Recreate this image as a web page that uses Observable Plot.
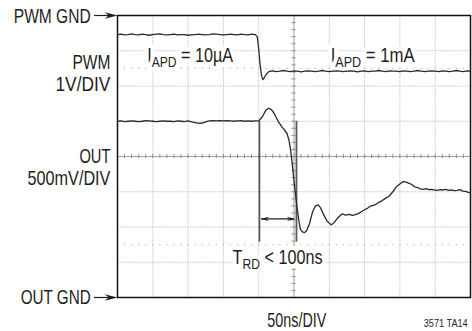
<!DOCTYPE html>
<html><head><meta charset="utf-8">
<script src="https://cdn.jsdelivr.net/npm/d3@7"></script>
<script src="https://cdn.jsdelivr.net/npm/@observablehq/plot@0.6"></script>
<style>body{margin:0;background:#fff}</style>
</head><body>
<script>
// time in ns (50ns/DIV), amplitude in screen divisions (0 = bottom / OUT GND, 8 = top / PWM GND)
const xGrid = [50,100,150,200,300,350,400,450];
const yGrid = [1,2,3,5,6,7];
const xCenter = 250, yCenter = 4;
const cursorRows = [1.5, 6.5];

const pwmT = [0,5,10,15,20,25,30,35,40,45,50,55,60,65,70,75,80,85,90,95,100,105,110,115,120,125,130,135,140,145,150,155,160,165,170,175,180,185,190,195,
  198,200,202,204,206,208,211,214,217,
  220,225,230,235,240,245,250,255,260,265,270,275,280,285,290,295,300,305,310,315,320,325,330,335,340,345,350,355,360,365,370,375,380,385,390,395,400,405,410,415,420,425,430,435,440,445,450,455,460,465,470,475,480,485,490,495,500];
const pwmV = [7.46,7.47,7.45,7.46,7.48,7.46,7.45,7.47,7.46,7.44,7.46,7.47,7.48,7.46,7.45,7.46,7.47,7.45,7.46,7.46,7.44,7.45,7.46,7.47,7.46,7.45,7.46,7.48,7.47,7.46,7.45,7.46,7.47,7.46,7.45,7.47,7.46,7.45,7.47,7.46,
  7.40,7.05,6.60,6.30,6.18,6.24,6.34,6.40,6.42,
  6.43,6.41,6.42,6.44,6.42,6.41,6.43,6.42,6.40,6.42,6.43,6.42,6.41,6.42,6.44,6.42,6.41,6.42,6.43,6.42,6.41,6.42,6.43,6.42,6.40,6.42,6.43,6.41,6.42,6.42,6.44,6.42,6.41,6.43,6.42,6.42,6.41,6.43,6.42,6.41,6.42,6.44,6.42,6.41,6.42,6.43,6.42,6.41,6.43,6.42,6.41,6.42,6.44,6.42,6.41,6.43,6.42];

const outT = [0,5,10,15,20,25,30,35,40,45,50,55,60,65,70,75,80,85,90,95,100,105,110,115,120,125,130,135,140,145,150,155,160,165,170,175,180,185,190,195,
  200,205,210,214,218,222,228,234,240,243,245,247.5,249.7,252,254.5,257,259,262,265,268,272,276,280,284,287.5,292,297,303,307,312,318,323,328,333,337,341,346,350,353,358,362,366,370,375,380,385,390,395,400,405,409,413,417,421,425,429,433,437,441,445,449,453,457,461,465,469,473,477,481,485,489,493,497,500];
const outV = [5.00,5.01,4.99,5.00,5.01,5.00,4.99,5.00,5.02,5.01,5.00,4.99,5.00,5.01,5.00,5.00,4.99,5.01,5.00,4.99,5.01,4.98,4.96,4.94,4.95,4.98,5.01,5.02,5.01,5.02,5.01,5.02,5.01,5.00,5.01,5.02,5.00,5.01,5.00,5.01,
  5.01,5.12,5.31,5.37,5.33,5.22,4.98,4.81,4.66,4.45,4.21,3.80,3.37,2.95,2.52,2.17,1.94,1.86,1.84,1.90,2.10,2.41,2.59,2.63,2.55,2.35,2.16,2.06,2.13,2.26,2.37,2.34,2.36,2.33,2.35,2.38,2.44,2.49,2.52,2.59,2.61,2.64,2.70,2.75,2.82,2.88,3.00,3.14,3.22,3.29,3.27,3.24,3.20,3.14,3.12,3.08,3.07,3.09,3.06,3.07,3.05,3.04,3.06,3.05,3.07,3.04,3.05,3.03,3.04,3.06,3.02,3.01,2.98,2.97];

const markerT = [201, 253.5];
const markerY = [1.57, 5.0];
const arrowY = 2.23;

// label texts
const sideLabels = ["PWM GND", "PWM", "1V/DIV", "OUT", "500mV/DIV", "OUT GND"];
const traceLabels = ["I_{APD} = 10µA", "I_{APD} = 1mA", "T_{RD} < 100ns"];
const timeLabel = "50ns/DIV";
const noteLabel = "3571 TA14";

// placement (layout, not data)
const sidePos = [[-38,7.78],[-10,6.49],[-10,5.87],[-10,3.81],[-10,3.18],[-38,-0.18]];
const tracePos = [[42,6.67],[302,6.67],[163,0.94]];
const timePos = [254,-0.84];
const notePos = [496,-0.83];
const textWidths = {"PWM GND":77,"PWM":38,"1V/DIV":55,"OUT":31,"500mV/DIV":83,"OUT GND":70,
  "I_{APD} = 10µA":86,"I_{APD} = 1mA":84,"T_{RD} < 100ns":90,"50ns/DIV":59,"3571 TA14":44};

const pwm = pwmT.map((t,i)=>({t, v:pwmV[i]}));
const out = outT.map((t,i)=>({t, v:outV[i]}));
const minorX = d3.range(0, 501, 10);
const minorY = d3.range(0, 8.01, 0.2);
const side = sideLabels.map((t,i)=>({t, x:sidePos[i][0], y:sidePos[i][1]}));
const trace = traceLabels.map((t,i)=>({t, x:tracePos[i][0], y:tracePos[i][1]}));

const arrowHead = { draw(ctx, size) {
  const r = Math.sqrt(size/Math.PI), L = 3.2*r, W = 0.8*r;
  ctx.moveTo(0,0); ctx.lineTo(-L,-W); ctx.lineTo(-0.68*L,0); ctx.lineTo(-L,W); ctx.closePath();
}};

const font = "'Liberation Sans','Arial',sans-serif";
const ink = "#231f20";
const fs = 20;

const chart = Plot.plot({
  width: 472, height: 331,
  marginLeft: 117, marginRight: 2, marginTop: 15, marginBottom: 34,
  x: {domain:[0,500], axis:null},
  y: {domain:[0,8], axis:null},
  style: {fontFamily: font, background: "#fff"},
  marks: [
    Plot.ruleX(xGrid, {stroke:"#c8c8c8", strokeWidth:1, strokeDasharray:"1.5,1"}),
    Plot.ruleY(yGrid, {stroke:"#c8c8c8", strokeWidth:1, strokeDasharray:"1.5,1"}),
    Plot.ruleX([xCenter], {stroke:"#a0a0a0", strokeWidth:1}),
    Plot.ruleY([yCenter], {stroke:"#a0a0a0", strokeWidth:1}),
    Plot.ruleX(minorX, {y1: yCenter-0.06, y2: yCenter+0.06, stroke:"#909090", strokeWidth:1}),
    Plot.ruleY(minorY, {x1: xCenter-2.9, x2: xCenter+2.9, stroke:"#909090", strokeWidth:1}),
    ...cursorRows.map(r => Plot.dot(minorX.slice(1,-1), {x: d=>d, y: ()=>r, r:0.7, fill:"#b8b8b8", stroke:null})),
    Plot.text(trace, {x:"x", y:"y", text:"t", textAnchor:"start", lineAnchor:"bottom", fontSize:fs, fill:ink, stroke:"white", strokeWidth:9, strokeLinejoin:"round"}),
    Plot.frame({stroke:"#111", strokeWidth:1.5}),
    Plot.ruleX(markerT, {y1: markerY[0], y2: markerY[1], stroke:"#5a5a5a", strokeWidth:1.8}),
    Plot.ruleY([arrowY], {x1: markerT[0]+3, x2: markerT[1]-3, stroke:ink, strokeWidth:1.2}),
    Plot.dot([{x:markerT[0]+1.5, r:180},{x:markerT[1]-1.5, r:0}], {x:"x", y:()=>arrowY, rotate:"r", symbol: arrowHead, r:2.7, fill:ink, stroke:null}),
    Plot.line(pwm, {x:"t", y:"v", stroke:"#2a2a2a", strokeWidth:1.3}),
    Plot.line(out, {x:"t", y:"v", stroke:"#2a2a2a", strokeWidth:1.3}),
    Plot.ruleY([8, 0], {x1:-32.6, x2:-6, stroke:ink, strokeWidth:1.2}),
    Plot.dot([8, 0], {x:()=>0, y:d=>d, symbol: arrowHead, r:4, fill:ink, stroke:null}),
    Plot.text(side, {x:"x", y:"y", text:"t", textAnchor:"end", lineAnchor:"bottom", fontSize:fs, fill:ink}),
    Plot.text([timeLabel], {x:()=>timePos[0], y:()=>timePos[1], text:d=>d, textAnchor:"middle", lineAnchor:"bottom", fontSize:fs, fill:ink}),
    Plot.text([noteLabel], {x:()=>notePos[0], y:()=>notePos[1], text:d=>d, textAnchor:"end", lineAnchor:"bottom", fontSize:11.5, fill:ink})
  ]
});

document.body.appendChild(chart);

// subscripts (X_{SUB}rest) and condensed look via horizontal scaling about the anchor
d3.select(chart).selectAll("text").each(function() {
  const s = this.textContent;
  const el = d3.select(this);
  const m = s.match(/^(.*?)_\{(.*?)\}(.*)$/);
  if (m) {
    el.text(null);
    el.append("tspan").text(m[1]);
    el.append("tspan").attr("dy", 5).attr("font-size", 15).text(m[2]);
    el.append("tspan").attr("dy", -5).text(m[3]);
  }
  const target = textWidths[s];
  if (!target) return;
  const w = this.getComputedTextLength();
  if (!w) return;
  const k = target / w;
  const x = +(this.getAttribute("x") || 0);
  const tr = this.getAttribute("transform") || "";
  this.setAttribute("transform", `${tr} translate(${x},0) scale(${k},1) translate(${-x},0)`);
});
</script>
</body></html>
